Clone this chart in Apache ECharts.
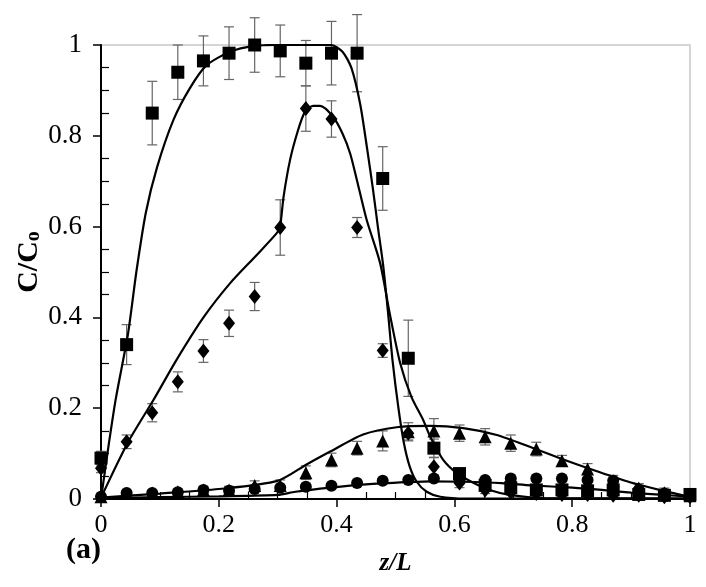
<!DOCTYPE html>
<html>
<head>
<meta charset="utf-8">
<script src="https://cdn.jsdelivr.net/npm/echarts@6/dist/echarts.min.js"></script>
<style>
html,body{margin:0;padding:0;background:#fff;}
#chart{width:706px;height:587px;}
</style>
</head>
<body>
<div id="chart"></div>
<script>
// ---- data ----
const zL = [0, 0.0435, 0.087, 0.1304, 0.1739, 0.2174, 0.2609, 0.3043, 0.3478, 0.3913, 0.4348, 0.4783,
            0.5217, 0.5652, 0.6087, 0.6522, 0.6957, 0.7391, 0.7826, 0.8261, 0.8696, 0.913, 0.9565, 1];

const squareVals = [0.09, 0.34, 0.85, 0.94, 0.965, 0.982, 1.0, 0.987, 0.96, 0.982, 0.982, 0.706,
                    0.31, 0.112, 0.056, 0.03, 0.025, 0.02, 0.02, 0.018, 0.02, 0.01, 0.008, 0.01];
const squareErr  = [0.015, 0.044, 0.07, 0.06, 0.055, 0.058, 0.06, 0.057, 0.05, 0.07, 0.085, 0.07,
                    0.084, 0.02, 0.012, 0.008, 0.006, 0.006, 0.006, 0.006, 0.006, 0.005, 0.005, 0.005];

const diamondVals = [0.068, 0.126, 0.19, 0.258, 0.326, 0.387, 0.446, 0.598, 0.86, 0.837, 0.598, 0.327,
                     0.145, 0.071, 0.035, 0.02, 0.015, 0.012, 0.01, 0.01, 0.008, 0.008, 0.005, 0.005];
const diamondErr  = [0.01, 0.015, 0.02, 0.022, 0.025, 0.029, 0.031, 0.061, 0.05, 0.04, 0.022, 0.015,
                     0.015, 0.02, 0.01, 0.008, 0.006, 0.005, 0.005, 0.005, 0.005, 0.005, 0.005, 0.005];

const triangleVals = [0.005, 0.012, 0.013, 0.016, 0.02, 0.02, 0.03, 0.03, 0.058, 0.086, 0.112, 0.128,
                      0.148, 0.15, 0.145, 0.137, 0.123, 0.11, 0.084, 0.066, 0.04, 0.024, 0.014, 0.007];
const triangleErr  = [0.005, 0.006, 0.006, 0.006, 0.008, 0.008, 0.01, 0.012, 0.015, 0.015, 0.015, 0.022,
                      0.02, 0.027, 0.018, 0.018, 0.018, 0.015, 0.012, 0.012, 0.012, 0.01, 0.01, 0.005];

const circleVals = [0.005, 0.013, 0.013, 0.015, 0.02, 0.018, 0.022, 0.025, 0.027, 0.029, 0.035, 0.04,
                    0.042, 0.045, 0.04, 0.042, 0.045, 0.045, 0.045, 0.042, 0.04, 0.02, 0.012, 0.007];
const circleErr  = [0.004, 0.004, 0.004, 0.004, 0.004, 0.004, 0.004, 0.004, 0.004, 0.004, 0.004, 0.005,
                    0.005, 0.005, 0.005, 0.005, 0.005, 0.005, 0.005, 0.005, 0.005, 0.005, 0.004, 0.004];

// model curves [z/L, C/Co]
const squareModel = [[0,0],[0.012,0.11],[0.025,0.22],[0.046,0.365],[0.06,0.5],[0.076,0.63],[0.095,0.73],
  [0.123,0.835],[0.151,0.905],[0.179,0.955],[0.219,0.985],[0.26,0.998],[0.3,1],[0.39,1],[0.41,0.985],
  [0.425,0.95],[0.44,0.87],[0.452,0.77],[0.462,0.68],[0.47,0.6],[0.479,0.515],[0.487,0.415],
  [0.495,0.305],[0.505,0.2],[0.514,0.125],[0.524,0.072],[0.536,0.038],[0.553,0.016],[0.576,0.005],
  [0.62,0.001],[1,0.001]];
const diamondModel = [[0,0.003],[0.045,0.123],[0.089,0.218],[0.128,0.306],[0.174,0.4],[0.219,0.475],
  [0.264,0.537],[0.298,0.585],[0.304,0.6],[0.31,0.666],[0.321,0.747],[0.334,0.81],[0.346,0.852],
  [0.36,0.866],[0.372,0.866],[0.394,0.842],[0.41,0.805],[0.423,0.761],[0.434,0.705],[0.451,0.615],
  [0.474,0.519],[0.49,0.41],[0.508,0.299],[0.527,0.225],[0.547,0.174],[0.559,0.137],[0.581,0.086],
  [0.604,0.057],[0.632,0.036],[0.66,0.02],[0.694,0.009],[0.75,0.002],[1,0.001]];
const triangleModel = [[0,0.003],[0.1,0.012],[0.2,0.022],[0.3,0.04],[0.349,0.076],[0.39,0.105],
  [0.445,0.142],[0.502,0.158],[0.559,0.161],[0.615,0.156],[0.672,0.141],[0.728,0.115],[0.785,0.087],
  [0.842,0.061],[0.898,0.037],[0.955,0.018],[1,0.005]];
const circleModel = [[0,0.002],[0.1,0.004],[0.2,0.006],[0.3,0.009],[0.33,0.016],[0.39,0.025],
  [0.45,0.032],[0.52,0.037],[0.56,0.039],[0.615,0.038],[0.68,0.035],[0.73,0.03],[0.8,0.025],
  [0.85,0.02],[0.9,0.014],[0.955,0.009],[1,0.005]];

const xTicks = [0, 0.2, 0.4, 0.6, 0.8, 1];
const yTicks = [0, 0.2, 0.4, 0.6, 0.8, 1];

// ---- build ----
const FONT = "'Liberation Serif', 'Times New Roman', serif";
function pts(vals){ return zL.map((x,i)=>[x, vals[i]]); }
function errs(vals, e){ return zL.map((x,i)=>[x, vals[i]-e[i], vals[i]+e[i]]); }

function errSeries(vals, e){
  return {
    type:'custom', xAxisIndex:0, yAxisIndex:0, z:2, silent:true,
    data: errs(vals, e),
    renderItem(params, api){
      const x = api.value(0);
      const lo = api.coord([x, api.value(1)]);
      const hi = api.coord([x, api.value(2)]);
      const w = 5;
      const st = {stroke:'#666', lineWidth:1.2};
      return {type:'group', children:[
        {type:'line', shape:{x1:lo[0],y1:lo[1],x2:hi[0],y2:hi[1]}, style:st},
        {type:'line', shape:{x1:hi[0]-w,y1:hi[1],x2:hi[0]+w,y2:hi[1]}, style:st},
        {type:'line', shape:{x1:lo[0]-w,y1:lo[1],x2:lo[0]+w,y2:lo[1]}, style:st}
      ]};
    }
  };
}
function scat(vals, symbol, size){
  return {type:'scatter', xAxisIndex:0, yAxisIndex:0, data: pts(vals), symbol, symbolSize:size,
          itemStyle:{color:'#000', opacity:1}, z:4, silent:true};
}
function model(d){
  return {type:'line', xAxisIndex:0, yAxisIndex:0, data:d, showSymbol:false, smooth:0.25,
          lineStyle:{color:'#000', width:2.2}, z:5, silent:true};
}

const axisBase = {
  min:0, max:1, interval:0.2,
  axisLine:{show:true, onZero:false, lineStyle:{color:'#000', width:2}},
  splitLine:{show:false}
};

const chart = echarts.init(document.getElementById('chart'), null, {renderer:'canvas'});
chart.setOption({
  animation:false,
  backgroundColor:'#fff',
  grid:{left:101, right:16, top:45, bottom:88, show:true, borderColor:'#c8c8c8', borderWidth:1.5,
        containLabel:false},
  xAxis:[
    Object.assign({}, axisBase, {
      type:'value', position:'bottom',
      axisTick:{show:true, length:8, lineStyle:{color:'#000', width:1.5}},
      axisLabel:{color:'#000', fontFamily:FONT, fontSize:26, margin:13,
                 customValues: xTicks, formatter:v=>String(+v.toFixed(1))},
      name:'z/L', nameLocation:'middle', nameGap:52,
      nameTextStyle:{fontFamily:FONT, fontSize:25, fontStyle:'italic', fontWeight:'bold', color:'#000'}
    }),
    {type:'value', min:0, max:1, interval:0.2, position:'bottom', gridIndex:0,
     axisLine:{show:false}, axisLabel:{show:false}, splitLine:{show:false},
     axisTick:{show:false, inside:true},
     minorTick:{show:true, splitNumber:4, length:7, lineStyle:{color:'#000', width:1.2}}}
  ],
  yAxis:[
    Object.assign({}, axisBase, {
      type:'value', position:'left',
      axisTick:{show:true, length:8, lineStyle:{color:'#000', width:1.5}},
      axisLabel:{color:'#000', fontFamily:FONT, fontSize:27, margin:19,
                 customValues: yTicks, formatter:v=>String(+v.toFixed(1))}
    }),
    {type:'value', min:0, max:1, interval:0.2, position:'left', gridIndex:0,
     axisLine:{show:false}, axisLabel:{show:false}, splitLine:{show:false},
     axisTick:{show:false, inside:true},
     minorTick:{show:true, splitNumber:4, length:8, lineStyle:{color:'#000', width:1.2}}}
  ],
  graphic:[
    {type:'text', x:29, y:262, rotation:Math.PI/2,
     style:{text:'{a|C/C}{b|o}', align:'center', verticalAlign:'middle',
       rich:{
         a:{font:"bold 30px 'Liberation Serif', serif", fill:'#000'},
         b:{font:"bold 20px 'Liberation Serif', serif", fill:'#000', verticalAlign:'bottom', padding:[8,0,0,0]}
       }}},
    {type:'text', left:66, top:535, style:{text:'(a)', font:"bold 30px 'Liberation Serif', serif", fill:'#000'}}
  ],
  series:[
    errSeries(squareVals, squareErr),
    errSeries(diamondVals, diamondErr),
    errSeries(triangleVals, triangleErr),
    errSeries(circleVals, circleErr),
    model(squareModel),
    model(diamondModel),
    model(triangleModel),
    model(circleModel),
    scat(circleVals, 'circle', 12),
    scat(triangleVals, 'triangle', 13),
    scat(diamondVals, 'diamond', [12,15]),
    scat(squareVals, 'rect', 13)
  ]
});
</script>
</body>
</html>
